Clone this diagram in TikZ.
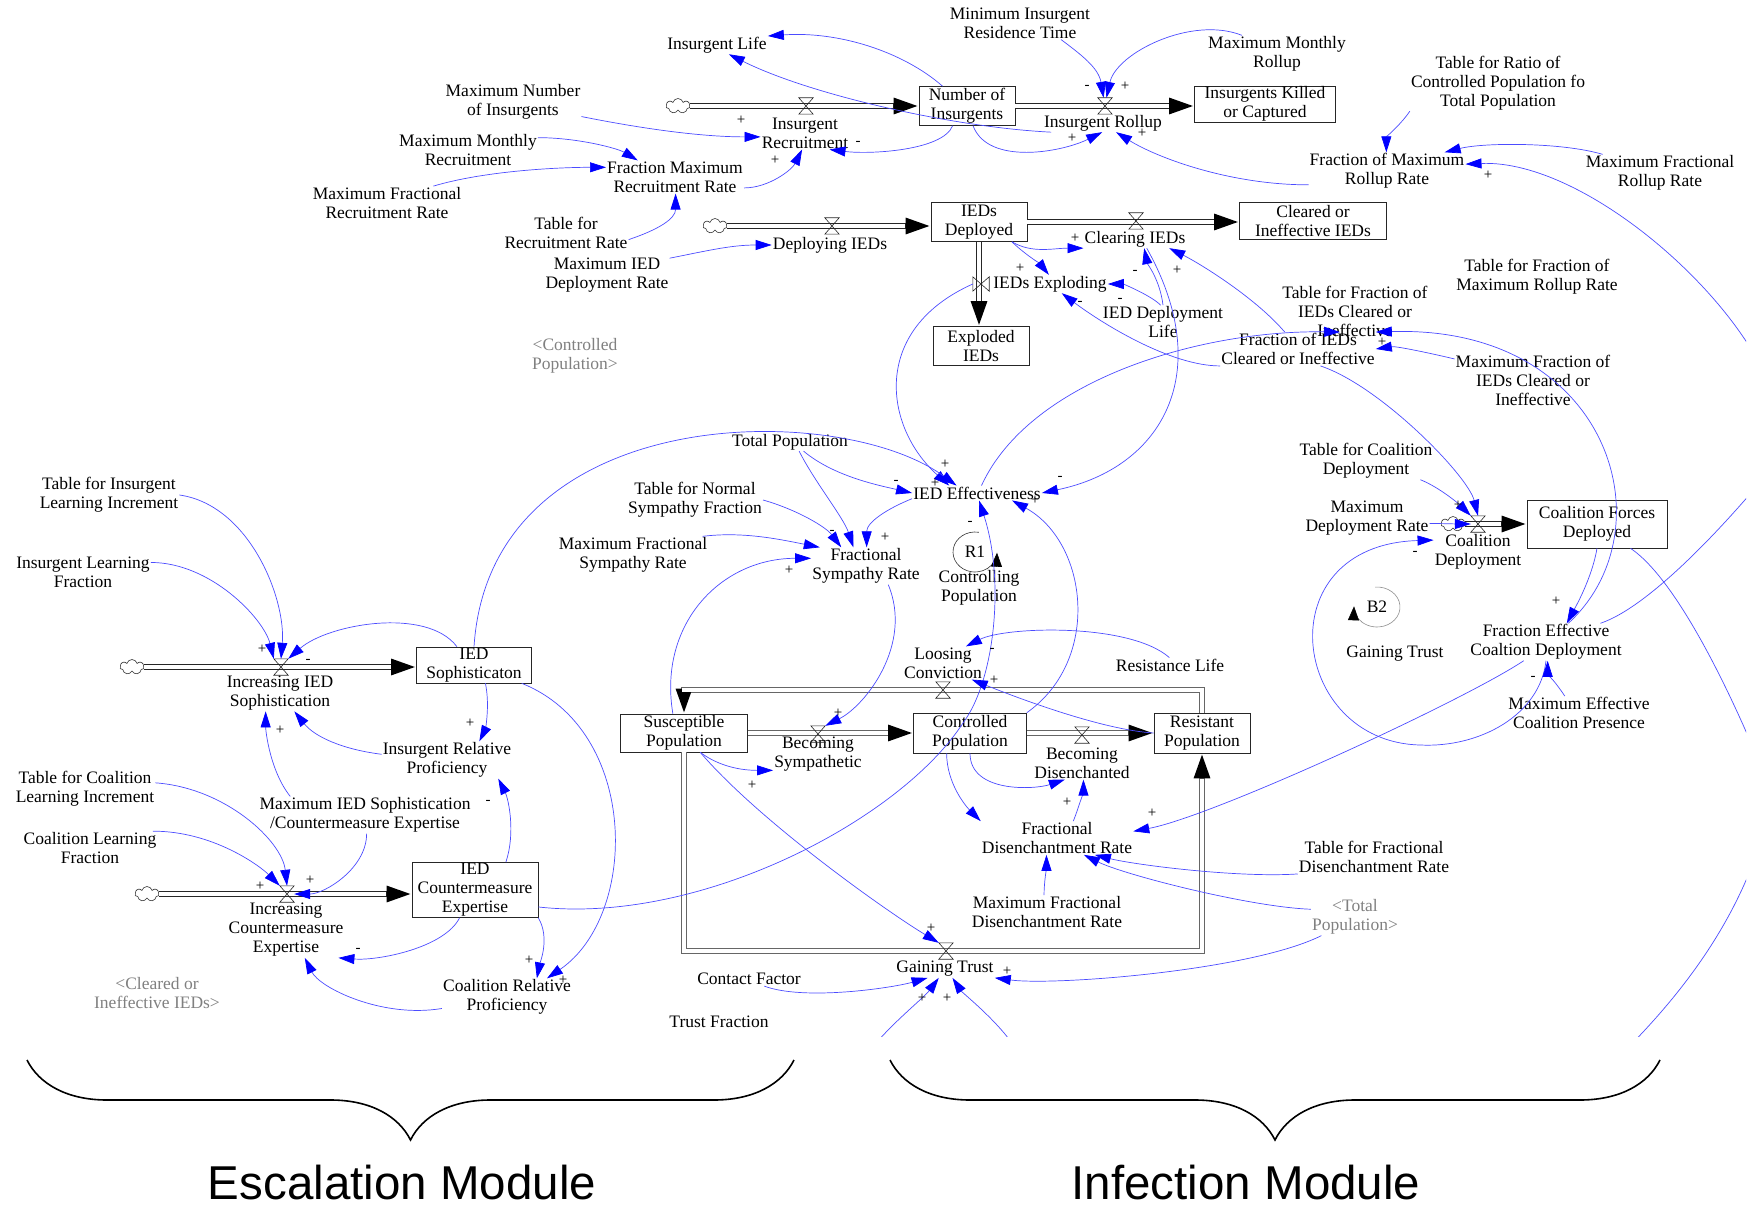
\documentclass[tikz,border=0pt]{standalone}
\usepackage{fontspec}
\setmainfont{Liberation Serif}
\newfontfamily\modfont{Liberation Sans}
\usetikzlibrary{arrows.meta,shapes.symbols,decorations.pathreplacing}

% a flow pipe: thick dark stroke with arrow tip, then a white core
\newcommand\pipepath[2][black!85]{%
  \draw[pipeback, draw=#1] #2;
  \draw[pipefront] #2;}

\begin{document}
\begin{tikzpicture}[x=1pt,y=-1pt,
  var/.style={align=center, font=\fontsize{17.5}{19}\selectfont, inner sep=1pt},
  shadowvar/.style={var, text=black!50},
  stock/.style={draw=black!85, line width=0.6pt, align=center, font=\fontsize{17.5}{19}\selectfont, inner sep=0pt},
  pol/.style={font=\fontsize{15}{15}\selectfont, inner sep=0pt},
  lnk/.style={draw=blue!70, line width=0.7pt, -{Triangle[length=16pt,width=10pt,color=blue]}},
  lnkfree/.style={draw=blue!70, line width=0.7pt},
  pipeback/.style={line width=5.4pt, -{Triangle[length=25pt,width=15pt,color=black]}},
  pipefront/.style={draw=white, line width=3.2pt, shorten >=25.5pt},
  valvebox/.style={minimum width=14pt, minimum height=16pt, inner sep=0pt},
  valveline/.style={draw=black!85, line width=0.6pt},
  cloudsrc/.style={cloud, cloud puffs=7, aspect=1.6, draw=black!80, line width=0.6pt, minimum width=24pt, minimum height=15pt, inner sep=0pt},
  loopline/.style={line width=0.6pt, -{Triangle[length=14pt,width=11pt,color=black]}},
  modbrace/.style={decorate, decoration={brace, mirror, amplitude=80pt}, line width=1.6pt},
  modlabel/.style={font=\modfont\fontsize{47.5}{50}\selectfont, anchor=base, inner sep=0pt},
]
\useasboundingbox (0,0) rectangle (1754,1206);

\begin{scope}
\clip (0,0) rectangle (1746,1036);

% ---------- variables of the escalation side ----------
\node[var] (ilife) at (717,45) {Insurgent Life};
\node[var] (maxnum) at (513,102) {Maximum Number\\of Insurgents};
\node[var] (maxmonrec) at (468,150) {Maximum Monthly\\Recruitment};
\node[var] (maxfracrec) at (387,203) {Maximum Fractional\\Recruitment Rate};
\node[var] (fmrr) at (675,177) {Fraction Maximum\\Recruitment Rate};
\node[var] (tabrec) at (566,233) {Table for\\Recruitment Rate};
\node[var] (maxiedrate) at (607,275) {Maximum IED\\Deployment Rate};
\node[var] (deploying) at (830,245) {Deploying IEDs};
\node[var] (irec) at (805,133) {Insurgent\\Recruitment};
\node[shadowvar] (ctrlsh) at (575,356) {<Controlled\\Population>};
\node[var] (minres) at (1020,23) {Minimum Insurgent\\Residence Time};
\node[stock, minimum width=96pt, minimum height=39pt] (numins) at (967,106) {Number of\\Insurgents};
\node[var] (irollup) at (1103,123) {Insurgent Rollup};
\node[stock, minimum width=141pt, minimum height=36pt] (killed) at (1265,104) {Insurgents Killed\\or Captured};
\node[var] (maxmonroll) at (1277,54) {Maximum Monthly\\Rollup};
\node[var] (tabratio) at (1498,83) {Table for Ratio of\\Controlled Population fo\\Total Population};
\node[var] (fmroll) at (1387,171) {Fraction of Maximum\\Rollup Rate};
\node[var] (maxfracroll) at (1660,173) {Maximum Fractional\\Rollup Rate};
\node[var] (tabfmroll) at (1537,277) {Table for Fraction of\\Maximum Rollup Rate};
\node[stock, minimum width=96pt, minimum height=39pt] (iedsdep) at (979,222) {IEDs\\Deployed};
\node[var] (clearing) at (1135,239) {Clearing IEDs};
\node[stock, minimum width=147pt, minimum height=37pt] (cleared) at (1313,221) {Cleared or\\Ineffective IEDs};
\node[var] (exploding) at (1050,284) {IEDs Exploding};
\node[stock, minimum width=96pt, minimum height=39pt] (exploded) at (981,346) {Exploded\\IEDs};
\node[var] (iedlife) at (1163,322) {IED Deployment\\Life};
\node[var] (tabfracieds) at (1355,311) {Table for Fraction of\\IEDs Cleared or\\Ineffective};
\node[var] (fracieds) at (1298,349) {Fraction of IEDs\\Cleared or Ineffective};
\node[var] (maxfracieds) at (1533,380) {Maximum Fraction of\\IEDs Cleared or\\Ineffective};

\node[var] (tabinsl) at (109,495) {Table for Insurgent\\Learning Increment};
\node[var] (inslf) at (83,572) {Insurgent Learning\\Fraction};
\node[var] (incsoph) at (280,693) {Increasing IED\\Sophistication};
\node[stock, minimum width=115pt, minimum height=36pt] (iedsoph) at (474,665) {IED\\Sophisticaton};
\node[var] (insrel) at (447,760) {Insurgent Relative\\Proficiency};
\node[var] (maxsoph) at (365,815) {Maximum IED Sophistication\\/Countermeasure Expertise};
\node[var] (tabcl) at (85,789) {Table for Coalition\\Learning Increment};
\node[var] (coallf) at (90,848) {Coalition Learning\\Fraction};
\node[var] (incce) at (286,930) {Increasing\\Countermeasure\\Expertise};
\node[stock, minimum width=126pt, minimum height=55pt] (iedce) at (475,890) {IED\\Countermeasure\\Expertise};
\node[var] (coalrel) at (507,997) {Coalition Relative\\Proficiency};
\node[shadowvar] (clearedsh) at (157,993) {<Cleared or\\Ineffective IEDs>};

% ---------- variables of the infection side ----------
\node[var] (totpop) at (790,442) {Total Population};
\node[var] (tabnorm) at (695,500) {Table for Normal\\Sympathy Fraction};
\node[var] (maxfracsym) at (633,555) {Maximum Fractional\\Sympathy Rate};
\node[var] (fsr) at (866,566) {Fractional\\Sympathy Rate};
\node[var] (iedeff) at (977,493) {IED Effectiveness};
\node[var] (r1) at (975,552) {R1};
\node[var] (ctrlloop) at (979,588) {Controlling\\Population};
\node[var] (loosing) at (943,663) {Loosing\\Conviction};
\node[var] (reslife) at (1170,665) {Resistance Life};
\node[stock, minimum width=127pt, minimum height=38pt] (suscept) at (684,733) {Susceptible\\Population};
\node[stock, minimum width=113pt, minimum height=40pt] (controlled) at (970,733) {Controlled\\Population};
\node[stock, minimum width=96pt, minimum height=40pt] (resistant) at (1202,733) {Resistant\\Population};
\node[var] (becsym) at (818,754) {Becoming\\Sympathetic};
\node[var] (becdis) at (1082,763) {Becoming\\Disenchanted};
\node[var] (fdr) at (1057,838) {Fractional\\Disenchantment Rate};
\node[var] (maxfdr) at (1047,912) {Maximum Fractional\\Disenchantment Rate};
\node[var] (tabfdr) at (1374,857) {Table for Fractional\\Disenchantment Rate};
\node[shadowvar] (totsh) at (1355,917) {<Total\\Population>};
\node[var] (gaining) at (945,969) {Gaining Trust};
\node[var] (contact) at (749,979) {Contact Factor};
\node[var] (trustfrac) at (719,1022) {Trust Fraction};

\node[var] (tabcoal) at (1366,461) {Table for Coalition\\Deployment};
\node[var] (maxdep) at (1367,518) {Maximum\\Deployment Rate};
\node[var] (coaldep) at (1478,552) {Coalition\\Deployment};
\node[stock, minimum width=140pt, minimum height=48pt] (coalforces) at (1597,524) {Coalition Forces\\Deployed};
\node[var] (b2) at (1377,607) {B2};
\node[var] (gtloop) at (1395,654) {Gaining Trust};
\node[var] (fecd) at (1546,642) {Fraction Effective\\Coaltion Deployment};
\node[var] (maxecp) at (1579,713) {Maximum Effective\\Coalition Presence};

% ---------- sources (clouds) ----------
\node[cloudsrc] (cl1) at (678,106) {};
\node[cloudsrc] (cl2) at (715,226) {};
\node[cloudsrc] (cl3) at (132,667) {};
\node[cloudsrc] (cl4) at (147,894) {};
\node[cloudsrc] (cl5) at (1453,524) {};

% ---------- flow pipes ----------
\pipepath{(cl1.east) -- (cl1.east -| numins.west)}
\pipepath{(numins.east) -- (numins.east -| killed.west)}
\pipepath{(cl2.east) -- (cl2.east -| iedsdep.west)}
\pipepath{(iedsdep.east) -- (iedsdep.east -| cleared.west)}
\pipepath{(iedsdep.south) -- (iedsdep.south |- exploded.north)}
\pipepath{(cl3.east) -- (cl3.east -| iedsoph.west)}
\pipepath{(cl4.east) -- (cl4.east -| iedce.west)}
\pipepath[black!60]{(suscept.east) -- (suscept.east -| controlled.west)}
\pipepath[black!60]{(controlled.east) -- (controlled.east -| resistant.west)}
\pipepath[black!60]{(resistant.north) |- (943,690) -| (suscept.north)}
\pipepath[black!60]{(suscept.south) |- (946,951) -| (resistant.south)}
\pipepath{(cl5.east) -- (cl5.east -| coalforces.west)}

% ---------- valves ----------
\foreach \nm/\px/\py in {vrec/806/106, vroll/1105/106, vdep/832/226, vclr/1136/221,
    vsoph/281/667, vce/287/894, vbs/818/734, vbd/1082/735, vlc/943/690,
    vgt/946/951, vcd/1478/524} {
  \node[valvebox] (\nm) at (\px,\py) {};
  \draw[valveline] (\nm.north west) -- (\nm.north east) -- (\nm.south west) -- (\nm.south east) -- cycle;
}
\node[valvebox, minimum width=16pt, minimum height=14pt] (vexpl) at (981,284) {};
\draw[valveline] (vexpl.north west) -- (vexpl.south west) -- (vexpl.north east) -- (vexpl.south east) -- cycle;

% ---------- loop markers ----------
\draw[loopline, draw=black!80] ([shift={(-80:22 and 20)}]r1.center) arc[start angle=-80, end angle=-358, x radius=22, y radius=20];
\draw[loopline, draw=black!45] ([shift={(-95:23 and 20)}]b2.center) arc[start angle=-95, end angle=182, x radius=23, y radius=20];

% ---------- free ends beyond the frame ----------
\coordinate (offG) at (1775,400);
\coordinate (offF) at (1790,445);
\coordinate (offC) at (1785,830);
\coordinate (offD) at (1778,760);
\coordinate (offE) at (1600,1075);
\coordinate (offA) at (872,1048);
\coordinate (offB) at (1015,1048);

% ---------- links: insurgents ----------
\draw[lnk] (numins.141) .. controls +(-40,-35) and +(70,-5) .. (ilife.10);
\draw[lnk] (irollup.190) .. controls +(-100,-5) and +(80,40) .. (ilife.-38);
\draw[lnk] (numins.-126) .. controls +(-10,25) and +(40,5) .. (irec.-34);
\draw[lnk] (maxnum.-12) .. controls +(60,12) and +(-60,0) .. (irec.185);
\draw[lnk] (maxmonrec.10) .. controls +(40,0) and +(-20,-12) .. (fmrr.156);
\draw[lnk] (maxfracrec.20) .. controls +(50,-15) and +(-50,0) .. (fmrr.172);
\draw[lnk] (tabrec.-6) .. controls +(30,-10) and +(0,25) .. (fmrr.-88);
\draw[lnk] (fmrr.-9) .. controls +(25,0) and +(-10,20) .. (irec.-100);
\draw[lnk] (maxiedrate.15) .. controls +(40,-8) and +(-40,0) .. (deploying.west);
\draw[lnk] (numins.-73) .. controls +(15,40) and +(-40,20) .. (irollup.-95);
\draw[lnk] (minres.-22) .. controls +(20,15) and +(-5,-30) .. (vroll.100);
\draw[lnk] (maxmonroll.152) .. controls +(-50,-20) and +(10,-45) .. (vroll.80);
\draw[lnk] (fmroll.190) .. controls +(-80,0) and +(40,25) .. (irollup.-35);
\draw[lnk] (tabratio.south west) .. controls +(-8,12) and +(0,-15) .. (fmroll.92);
\draw[lnk] (maxfracroll.162) .. controls +(-40,-12) and +(40,-10) .. (fmroll.18);
\draw[lnk] (offG) .. controls +(-30,-100) and +(120,-5) .. (fmroll.5);

% ---------- links: IEDs ----------
\draw[lnk] (iedsdep.-31) .. controls +(20,12) and +(-30,0) .. (clearing.south west);
\draw[lnk] (iedsdep.-31) .. controls +(10,10) and +(-8,-10) .. (exploding.97);
\draw[lnk] (iedlife.98) .. controls +(-10,-10) and +(15,0) .. (exploding.east);
\draw[lnk] (iedlife.north) .. controls +(-3,-25) and +(3,15) .. (clearing.-45);
\draw[lnk] (fracieds.128) .. controls +(-30,-35) and +(30,15) .. (clearing.-15);
\draw[lnk] (fracieds.south west) .. controls +(-50,0) and +(40,30) .. (exploding.-38);
\draw[lnk] (clearing.-38) .. controls +(70,125) and +(120,-25) .. (iedeff.east);
\draw[lnk] (vexpl.west) .. controls +(-103,46) and +(-65,-58) .. (iedeff.165);
\draw[lnk] (iedeff.59) .. controls (1030,380) and (1200,330) .. (fracieds.22);
\draw[lnk] (maxfracieds.165) .. controls +(-25,-6) and +(20,-3) .. (fracieds.east);

% ---------- links: sophistication and expertise ----------
\draw[lnk] (tabinsl.east) .. controls +(70,10) and +(5,-60) .. (vsoph.north);
\draw[lnk] (inslf.8) .. controls +(60,0) and +(-10,-40) .. (vsoph.north west);
\draw[lnk] (iedsoph.133) .. controls +(-30,-40) and +(40,-35) .. (vsoph.north east);
\draw[lnk] (insrel.175) .. controls +(-40,-5) and +(20,25) .. (incsoph.-52);
\draw[lnk] (maxsoph.166) .. controls +(-20,-25) and +(0,20) .. (incsoph.-128);
\draw[lnk] (iedsoph.-58) .. controls +(5,25) and +(5,-10) .. (insrel.30);
\draw[lnk] (iedce.42) .. controls +(10,-30) and +(10,20) .. (insrel.-20);
\draw[lnk] (iedsoph.-21) .. controls +(118,47) and +(92,-63) .. (coalrel.25);
\draw[lnk] (iedce.south east) .. controls +(12,20) and +(3,-15) .. (coalrel.32);
\draw[lnk] (iedce.-119) .. controls +(-15,30) and +(40,3) .. (incce.-28);
\draw[lnk] (coalrel.190) .. controls +(-60,10) and +(15,30) .. (incce.-56);
\draw[lnk] (tabcl.5) .. controls +(70,5) and +(-5,-45) .. (vce.north);
\draw[lnk] (coallf.15) .. controls +(60,0) and +(-20,-20) .. (vce.north west);
\draw[lnk] (maxsoph.-85) .. controls +(0,35) and +(30,0) .. (vce.east);
\draw[lnk] (iedsoph.north) .. controls (490,400) and (840,400) .. (iedeff.160);
\draw[lnk] (iedce.-15) .. controls (700,925) and (900,820) .. (963,723) .. controls (995,680) and (1005,580) .. (iedeff.-75);

% ---------- links: population ----------
\draw[lnk] (totpop.-34) .. controls +(30,25) and +(-35,-8) .. (iedeff.west);
\draw[lnk] (totpop.-45) .. controls +(15,30) and +(-10,-30) .. (fsr.124);
\draw[lnk] (tabnorm.east) .. controls +(35,10) and +(-15,-20) .. (fsr.143);
\draw[lnk] (maxfracsym.15) .. controls +(40,-5) and +(-40,-8) .. (fsr.158);
\draw[lnk] (suscept.120) .. controls +(-15,-90) and +(-90,0) .. (fsr.172);
\draw[lnk] (iedeff.185) .. controls +(-25,10) and +(0,-25) .. (fsr.88);
\draw[lnk] (fsr.-40) .. controls +(25,60) and +(40,-20) .. (vbs.north east);
\draw[lnk] (suscept.-50) .. controls +(20,15) and +(-30,0) .. (becsym.200);
\draw[lnk] (resistant.west) .. controls +(-50,-3) and +(50,20) .. (loosing.-30);
\draw[lnk] (reslife.95) .. controls +(-40,-35) and +(40,-20) .. (loosing.36);
\draw[lnk] (controlled.north east) .. controls +(75,-53) and +(76,42) .. (iedeff.-12);
\draw[lnk] (controlled.-139) .. controls +(0,30) and +(-15,-15) .. (fdr.north west);
\draw[lnk] (controlled.south) .. controls +(0,40) and +(-30,10) .. (becdis.-136);
\draw[lnk] (fdr.46) .. controls +(5,-12) and +(0,10) .. (becdis.-85);
\draw[lnk] (maxfdr.100) .. controls +(0,-12) and +(0,12) .. (fdr.-122);
\draw[lnk] (tabfdr.south west) .. controls +(-60,4) and +(40,10) .. (fdr.-24);
\draw[lnk] (totsh.170) .. controls +(-60,-2) and +(40,20) .. (fdr.-32);
\draw[lnk] (totsh.-151) .. controls +(-70,35) and +(60,8) .. (gaining.south east);
\draw[lnk] (suscept.-50) .. controls +(60,70) and +(-50,-30) .. (vgt.north west);
\draw[lnk] (contact.-25) .. controls +(40,15) and +(-35,10) .. (gaining.-153);
\draw[lnk] (offA) .. controls +(20,-25) and +(-15,20) .. (gaining.-125);
\draw[lnk] (offB) .. controls +(-15,-25) and +(10,15) .. (gaining.-50);

% ---------- links: coalition ----------
\draw[lnk] (fecd.-140) .. controls +(-60,40) and +(80,-15) .. (fdr.5);
\draw[lnk] (fecd.south) .. controls +(-6,54) and (1480,748) .. (1420,745) .. controls (1290,742) and (1265,545) .. (coaldep.165);
\draw[lnk] (maxecp.130) .. controls +(-8,-12) and +(0,12) .. (fecd.-85);
\draw[lnk] (coalforces.south) .. controls +(-5,30) and +(8,-15) .. (fecd.42);
\draw[lnk] (fecd.40) .. controls (1670,530) and (1610,325) .. (fracieds.north east);
\draw[lnk] (fracieds.-37) .. controls +(60,20) and +(-10,-40) .. (vcd.north);
\draw[lnk] (tabcoal.-19) .. controls +(20,8) and +(-10,-10) .. (vcd.north west);
\draw[lnk] (maxdep.-5) .. controls +(10,0) and +(-10,0) .. (vcd.west);
\draw[lnkfree] (coalforces.-36) .. controls +(60,40) and +(-20,-60) .. (offC);
\draw[lnkfree] (offD) .. controls +(-15,140) and +(80,-75) .. (offE);
\draw[lnkfree] (fecd.19) .. controls +(60,-20) and +(-30,40) .. (offF);

% ---------- link polarities ----------
\foreach \px/\py/\sg [count=\i] in {
  741/120/+, 858/143/-, 775/160/+, 1087/87/-, 1125/86/+, 1072/138/+, 1142/133/+,
  1488/175/+, 1075/238/+, 1020/268/+, 1135/272/-, 1177/270/+, 1120/300/-, 1080/303/-,
  1382/342/+, 262/649/+, 308/661/-, 280/730/+, 470/723/+, 488/802/-, 529/960/+,
  563/980/+, 260/886/+, 310/880/+, 358/950/-, 945/464/+, 896/482/-, 935/483/+,
  1035/500/+, 1060/478/-, 970/523/-, 885/537/+, 832/532/-, 789/570/+, 838/713/+,
  752/785/+, 992/650/-, 994/680/+, 1067/802/+, 1152/813/+, 931/928/+, 1007/971/+,
  922/998/+, 947/998/+, 1458/505/+, 1415/553/-, 1556/601/+, 1533/678/-} {
  \node[pol] (sgn\i) at (\px,\py) {\sg};
}
\end{scope}

% ---------- module braces ----------
\coordinate (escL) at (27,1060);
\coordinate (escR) at (794,1060);
\coordinate (infL) at (890,1060);
\coordinate (infR) at (1660,1060);
\draw[modbrace] (escL) -- (escR);
\draw[modbrace] (infL) -- (infR);
\node[modlabel] (escal) at (402,1199) {Escalation Module};
\node[modlabel] (infect) at (1246,1199) {Infection Module};
\end{tikzpicture}
\end{document}
